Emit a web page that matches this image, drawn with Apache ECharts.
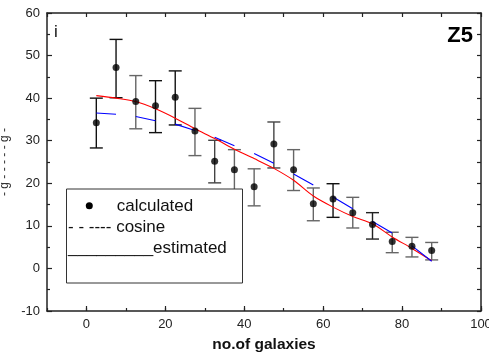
<!DOCTYPE html>
<html>
<head>
<meta charset="utf-8">
<script src="https://cdn.jsdelivr.net/npm/echarts@6/dist/echarts.min.js"></script>
<style>
html,body{margin:0;padding:0;background:#fff;}
#chart{width:489px;height:355px;}
</style>
</head>
<body>
<div id="chart"></div>
<script>
// ---- data ----
const galaxies   = [2.5, 7.5, 12.5, 17.5, 22.5, 27.5, 32.5, 37.5, 42.5, 47.5, 52.5, 57.5, 62.5, 67.5, 72.5, 77.5, 82.5, 87.5];
const calculated = [34.2, 47.2, 39.2, 38.2, 40.2, 32.3, 25.2, 23.2, 19.2, 29.2, 23.2, 15.2, 16.3, 13.1, 10.3, 6.3, 5.2, 4.2];
const errHigh    = [40.0, 53.8, 45.3, 44.1, 46.4, 37.6, 30.1, 27.9, 23.4, 34.4, 27.9, 18.9, 19.9, 16.7, 13.1, 8.5, 7.3, 6.1];
const errLow     = [28.3, 40.1, 32.8, 31.9, 33.7, 26.5, 20.1, 18.5, 14.7, 23.6, 18.3, 11.2, 12.0, 9.5, 6.9, 3.7, 2.7, 2.0];
const cosine     = [36.5, 36.2, 35.7, 34.7, 33.9, 32.4, 30.8, 28.8, 27.0, 24.7, 22.2, 19.6, 16.8, 14.0, 11.0, 8.3, 5.3, 1.7];
const estimated  = [40.6, 40.0, 39.2, 37.5, 35.3, 32.8, 30.5, 28.0, 25.8, 23.5, 20.7, 17.0, 14.4, 12.2, 10.5, 7.4, 4.7, 1.8];
const xTickLabels = [0, 20, 40, 60, 80, 100];
const legendNames = ['calculated', 'cosine', 'estimated'];

// ---- styles (not data) ----
const barShade = ['#111','#111','#666','#111','#111','#666','#444','#666','#666','#444','#666','#666','#111','#666','#222','#666','#666','#666'];
const FONT = 'Arial, "Liberation Sans", sans-serif';

const calcData = galaxies.map((x, i) => [x, calculated[i]]);
const errData = galaxies.map((x, i) => [x, errLow[i], errHigh[i], i]);
const estData = galaxies.map((x, i) => [x, estimated[i]]);
// cosine drawn as a long-dash curve: pairs of points separated by gaps
const cosData = [];
for (let i = 0; i < galaxies.length; i += 2) {
  cosData.push([galaxies[i], cosine[i]]);
  if (i + 1 < galaxies.length) cosData.push([galaxies[i + 1], cosine[i + 1]]);
  if (i + 2 < galaxies.length) cosData.push([(galaxies[i + 1] + galaxies[i + 2]) / 2, '-']);
}

const axisLine = { show: true, onZero: false, lineStyle: { color: '#222', width: 1.5 } };
const chart = echarts.init(document.getElementById('chart'), null, { renderer: 'canvas' });
chart.setOption({
  animation: false,
  backgroundColor: '#fff',
  grid: { left: 47, right: 8, top: 13, bottom: 44, containLabel: false, outerBoundsMode: 'none' },
  xAxis: [
    {
      type: 'value', position: 'bottom', min: -10, max: 100, interval: 10,
      name: 'no.of galaxies', nameLocation: 'middle', nameGap: 26,
      nameTextStyle: { fontFamily: FONT, fontWeight: 'bold', fontSize: 15.5, color: '#111' },
      axisLine: axisLine,
      axisTick: { show: true, inside: true, length: 5, customValues: xTickLabels, lineStyle: { color: '#222', width: 1.2 } },
      axisLabel: { show: true, customValues: xTickLabels, fontFamily: FONT, fontSize: 13, color: '#222', margin: 7 },
      splitLine: { show: false }
    },
    {
      type: 'value', position: 'bottom', min: -10, max: 100, interval: 10,
      axisLine: { show: false, onZero: false },
      axisTick: { show: true, inside: true, length: 3, lineStyle: { color: '#222', width: 1.2 } },
      axisLabel: { show: false }, splitLine: { show: false }
    },
    {
      type: 'value', position: 'top', min: -10, max: 100, interval: 10,
      axisLine: axisLine,
      axisTick: { show: true, inside: true, length: 4, lineStyle: { color: '#222', width: 1.2 } },
      axisLabel: { show: false }, splitLine: { show: false }
    }
  ],
  yAxis: [
    {
      type: 'value', position: 'left', min: -10, max: 60, interval: 10,
      name: '- g - - - - - g -', nameLocation: 'middle', nameGap: 30,
      nameTextStyle: { fontFamily: FONT, fontSize: 12, color: '#333' },
      axisLine: axisLine,
      axisTick: { show: true, inside: true, length: 5, lineStyle: { color: '#222', width: 1.2 } },
      minorTick: { show: true, splitNumber: 2, length: 3, lineStyle: { color: '#222', width: 1.2 } },
      axisLabel: { fontFamily: FONT, fontSize: 13, color: '#222', margin: 7 },
      splitLine: { show: false }, minorSplitLine: { show: false }
    },
    {
      type: 'value', position: 'right', min: -10, max: 60, interval: 5,
      axisLine: axisLine,
      axisTick: { show: true, inside: true, length: 4, lineStyle: { color: '#222', width: 1.2 } },
      axisLabel: { show: false }, splitLine: { show: false }
    }
  ],
  series: [
    {
      name: 'error', type: 'custom', xAxisIndex: 0, yAxisIndex: 0, z: 3,
      data: errData,
      encode: { x: 0, y: [1, 2] },
      renderItem: function (params, api) {
        const x = api.value(0);
        const lo = api.coord([x, api.value(1)]);
        const hi = api.coord([x, api.value(2)]);
        const c = barShade[api.value(3)];
        const hw = 6.5;
        const st = { stroke: c, lineWidth: 1.4 };
        return {
          type: 'group',
          children: [
            { type: 'line', shape: { x1: lo[0], y1: lo[1], x2: hi[0], y2: hi[1] }, style: st },
            { type: 'line', shape: { x1: lo[0] - hw, y1: lo[1], x2: lo[0] + hw, y2: lo[1] }, style: st },
            { type: 'line', shape: { x1: hi[0] - hw, y1: hi[1], x2: hi[0] + hw, y2: hi[1] }, style: st }
          ]
        };
      }
    },
    {
      name: legendNames[2], type: 'line', xAxisIndex: 0, yAxisIndex: 0, z: 4,
      data: estData, smooth: 0.3, showSymbol: false,
      lineStyle: { color: '#ff0000', width: 1.1 }
    },
    {
      name: legendNames[1], type: 'line', xAxisIndex: 0, yAxisIndex: 0, z: 4,
      data: cosData, connectNulls: false, showSymbol: false,
      lineStyle: { color: '#0000ff', width: 1.1 }
    },
    {
      name: legendNames[0], type: 'scatter', xAxisIndex: 0, yAxisIndex: 0, z: 5,
      data: calcData, symbol: 'circle', symbolSize: 7,
      itemStyle: { color: '#000' }
    }
  ],
  graphic: [
    { type: 'rect', z: 100, shape: { x: 66.5, y: 189, width: 176, height: 94 },
      style: { fill: '#fff', stroke: '#333', lineWidth: 1 } },
    { type: 'circle', z: 101, shape: { cx: 89.3, cy: 205.7, r: 3.5 }, style: { fill: '#000' } },
    { type: 'text', z: 101, x: 116.7, y: 206.5,
      style: { text: legendNames[0], font: '17px ' + FONT, fill: '#111', verticalAlign: 'middle' } },
    { type: 'text', z: 101, x: 68, y: 227.5,
      style: { text: '- - ---- ' + legendNames[1], font: '17px ' + FONT, fill: '#111', verticalAlign: 'middle' } },
    { type: 'text', z: 101, x: 68, y: 248,
      style: { text: '_________' + legendNames[2], font: '17px ' + FONT, fill: '#111', verticalAlign: 'middle' } },
    { type: 'text', z: 101, x: 54, y: 32.5,
      style: { text: 'i', font: '17px ' + FONT, fill: '#111', verticalAlign: 'middle' } },
    { type: 'text', z: 101, x: 473, y: 35.5,
      style: { text: 'Z5', font: 'bold 22px ' + FONT, fill: '#000', align: 'right', verticalAlign: 'middle' } }
  ]
});
</script>
</body>
</html>
